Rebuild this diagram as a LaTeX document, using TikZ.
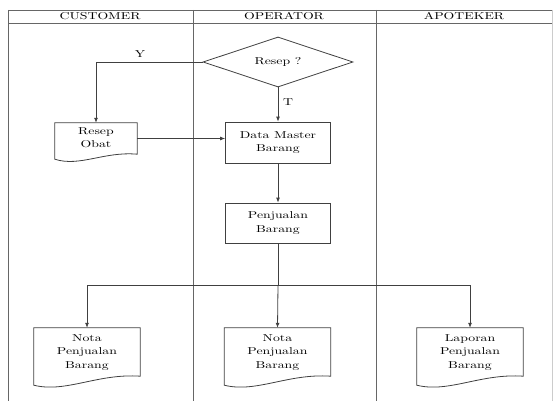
\documentclass[tikz,border=0pt]{standalone}
\usepackage{graphicx}
\usetikzlibrary{shapes.geometric,arrows.meta,calc}
\newcommand\wt[1]{\scalebox{1.38}[1]{\fontsize{10}{13.5}\selectfont\begin{tabular}{@{}c@{}}#1\end{tabular}}}
\newcommand\docout[2]{% name, wave depth
  \draw[flow] (#1.north west) -- (#1.north east) -- (#1.south east)
    .. controls ($(#1.south west)!0.6!(#1.south east)+(0,-3)$) and ($(#1.south west)!0.3!(#1.south east)+(0,#2+8)$) .. ($(#1.south west)+(0,#2)$) -- cycle;}
\begin{document}
\begin{tikzpicture}[x=1pt,y=-1pt,
  flow/.style={draw=black!75,line width=0.8pt},
  arr/.style={flow,-{Latex[length=5pt,width=4pt]}},
  frame/.style={draw=black!60,line width=0.6pt},
  boxnode/.style={flow,rectangle,inner sep=0pt,minimum width=105pt,minimum height=41pt},
  docnode/.style={rectangle,inner sep=0pt,minimum width=106pt,minimum height=48pt},
  lbl/.style={inner sep=0pt}]
\useasboundingbox (0,0) rectangle (556,401);
% frame
\draw[frame] (8,10) -- (552,10);
\draw[frame] (8,23) -- (552,23);
\draw[frame] (8,10) -- (8,401);
\draw[frame] (193,10) -- (193,401);
\draw[frame] (376,10) -- (376,401);
\draw[draw=black!20,line width=0.5pt] (552,10) -- (552,401);
\node[lbl] (h1) at (100,16.5) {\wt{CUSTOMER}};
\node[lbl] (h2) at (284,16.5) {\wt{OPERATOR}};
\node[lbl] (h3) at (464,16.5) {\wt{APOTEKER}};
% nodes
\node[flow,diamond,aspect=3,minimum width=150pt,minimum height=50pt,inner sep=0pt] (dec) at (278,62) {\wt{Resep ?}};
\node[docnode,minimum width=82pt,minimum height=31pt] (resep) at (96,138.5) {\wt{Resep\\Obat}};
\docout{resep}{5}
\node[boxnode] (dm) at (278,142.5) {\wt{Data Master\\Barang}};
\node[boxnode,minimum height=40pt] (pj) at (278,223) {\wt{Penjualan\\Barang}};
\node[docnode] (nota1) at (87,352) {\wt{Nota\\Penjualan\\Barang}};
\docout{nota1}{9}
\node[docnode] (nota2) at (277.5,352) {\wt{Nota\\Penjualan\\Barang}};
\docout{nota2}{9}
\node[docnode] (lap) at (470,352) {\wt{Laporan\\Penjualan\\Barang}};
\docout{lap}{9}
% connectors
\draw[arr] (dec.west) -| (resep.north);
\node[lbl] (ylbl) at (140,55) {\wt{Y}};
\draw[arr] (dec.south) -- (dm.north);
\node[lbl] (tlbl) at (288,103) {\wt{T}};
\draw[arr] (resep.east) -- (resep.east -| dm.west);
\draw[arr] (dm.south) -- (pj.north);
\coordinate (split) at (278,285);
\draw[flow] (pj.south) -- (split);
\draw[arr] (split) -| (nota1.north);
\draw[arr] (split) -- (nota2.north);
\draw[arr] (split) -| (lap.north);
\end{tikzpicture}
\end{document}
